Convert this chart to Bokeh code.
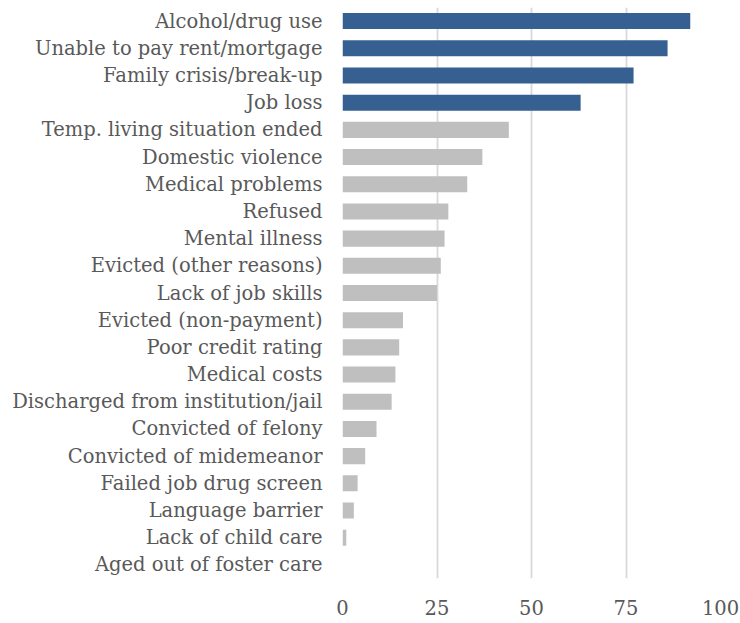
from bokeh.plotting import figure
from bokeh.models import ColumnDataSource, FactorRange, Range1d, FixedTicker
from bokeh.embed import file_html
from bokeh.resources import INLINE

categories = [
    "Alcohol/drug use",
    "Unable to pay rent/mortgage",
    "Family crisis/break-up",
    "Job loss",
    "Temp. living situation ended",
    "Domestic violence",
    "Medical problems",
    "Refused",
    "Mental illness",
    "Evicted (other reasons)",
    "Lack of job skills",
    "Evicted (non-payment)",
    "Poor credit rating",
    "Medical costs",
    "Discharged from institution/jail",
    "Convicted of felony",
    "Convicted of midemeanor",
    "Failed job drug screen",
    "Language barrier",
    "Lack of child care",
    "Aged out of foster care",
]
values = [92, 86, 77, 63, 44, 37, 33, 28, 27, 26, 25, 16, 15, 14, 13, 9, 6, 4, 3, 1, 0]
highlighted = ["Alcohol/drug use", "Unable to pay rent/mortgage",
               "Family crisis/break-up", "Job loss"]
x_ticks = [0, 25, 50, 75, 100]

BLUE = "#366092"
GREY = "#bfbfbf"
colors = [BLUE if c in highlighted else GREY for c in categories]

source = ColumnDataSource(dict(cat=categories, val=values, color=colors))

p = figure(
    width=740, height=623,
    y_range=FactorRange(factors=list(reversed(categories)), range_padding=0),
    x_range=Range1d(0, 100),
    output_backend="svg", toolbar_location=None,
    min_border_left=342, min_border_right=20, min_border_top=7, min_border_bottom=45,
)
p.hbar(y="cat", right="val", left=0, height=0.59, color="color", line_color=None, source=source)

p.outline_line_color = None
p.background_fill_color = "white"
p.border_fill_color = "white"

p.ygrid.grid_line_color = None
p.xgrid.grid_line_color = "#d9d9d9"
p.xgrid.grid_line_width = 1.8
p.xaxis.ticker = FixedTicker(ticks=x_ticks)

font = "DejaVu Serif"
for ax in (p.xaxis[0], p.yaxis[0]):
    ax.axis_line_color = None
    ax.major_tick_line_color = None
    ax.minor_tick_line_color = None
    ax.major_tick_out = 0
    ax.major_tick_in = 0
    ax.major_label_text_font = font
    ax.major_label_text_font_size = "19.5px"
    ax.major_label_text_color = "#595959"

p.yaxis.major_label_standoff = 20
p.xaxis.major_label_standoff = 21

open("out.html", "w").write(file_html(p, INLINE))
